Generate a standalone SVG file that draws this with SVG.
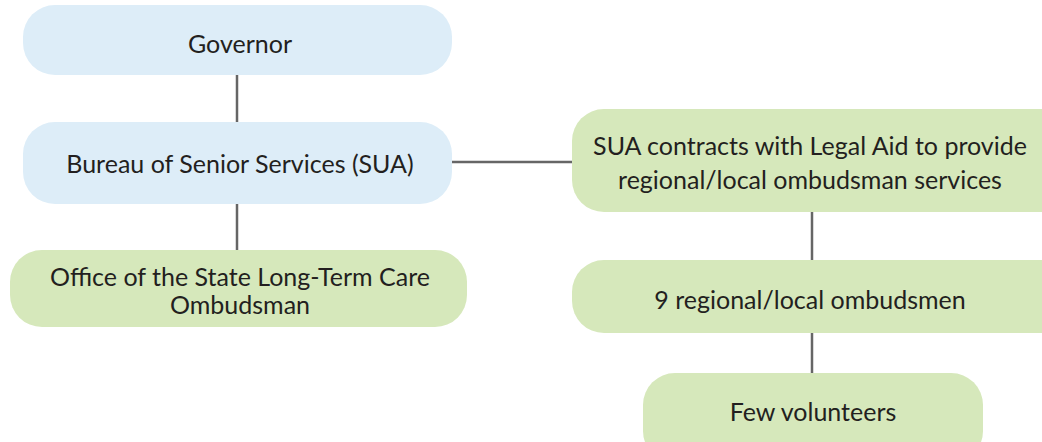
<svg xmlns="http://www.w3.org/2000/svg" width="1042" height="442" viewBox="0 0 1042 442">
<style>
.blue{fill:#DDEDF8}
.green{fill:#D6E8BB}
.t{font-family:Lato,"Liberation Sans",sans-serif;font-size:25px;fill:#231F20;text-anchor:middle}
.c{stroke:#666666;stroke-width:2.5;fill:none}
</style>
<rect width="1042" height="442" fill="#FFFFFF"/>
<g id="connectors">
<line class="c" x1="237" y1="75" x2="237" y2="122"/>
<line class="c" x1="237" y1="204" x2="237" y2="250"/>
<line class="c" x1="452" y1="162" x2="572" y2="162"/>
<line class="c" x1="812" y1="212" x2="812" y2="260"/>
<line class="c" x1="812" y1="333" x2="812" y2="373"/>
</g>
<g id="governor">
<rect class="blue" x="23" y="5" width="429" height="70" rx="32"/>
<text class="t" x="240" y="53">Governor</text>
</g>
<g id="bureau">
<rect class="blue" x="23" y="122" width="429" height="82" rx="32"/>
<text class="t" x="240" y="173">Bureau of Senior Services (SUA)</text>
</g>
<g id="office">
<rect class="green" x="10" y="250" width="457" height="77" rx="32"/>
<text class="t" x="240" y="286">Office of the State Long-Term Care</text>
<text class="t" x="240" y="314">Ombudsman</text>
</g>
<g id="sua">
<rect class="green" x="572" y="109" width="500" height="103" rx="32"/>
<text class="t" x="810" y="155">SUA contracts with Legal Aid to provide</text>
<text class="t" x="810" y="189">regional/local ombudsman services</text>
</g>
<g id="regional">
<rect class="green" x="572" y="260" width="500" height="73" rx="32"/>
<text class="t" x="810" y="309">9 regional/local ombudsmen</text>
</g>
<g id="volunteers">
<rect class="green" x="643" y="373" width="340" height="90" rx="32"/>
<text class="t" x="813" y="421">Few volunteers</text>
</g>
</svg>
